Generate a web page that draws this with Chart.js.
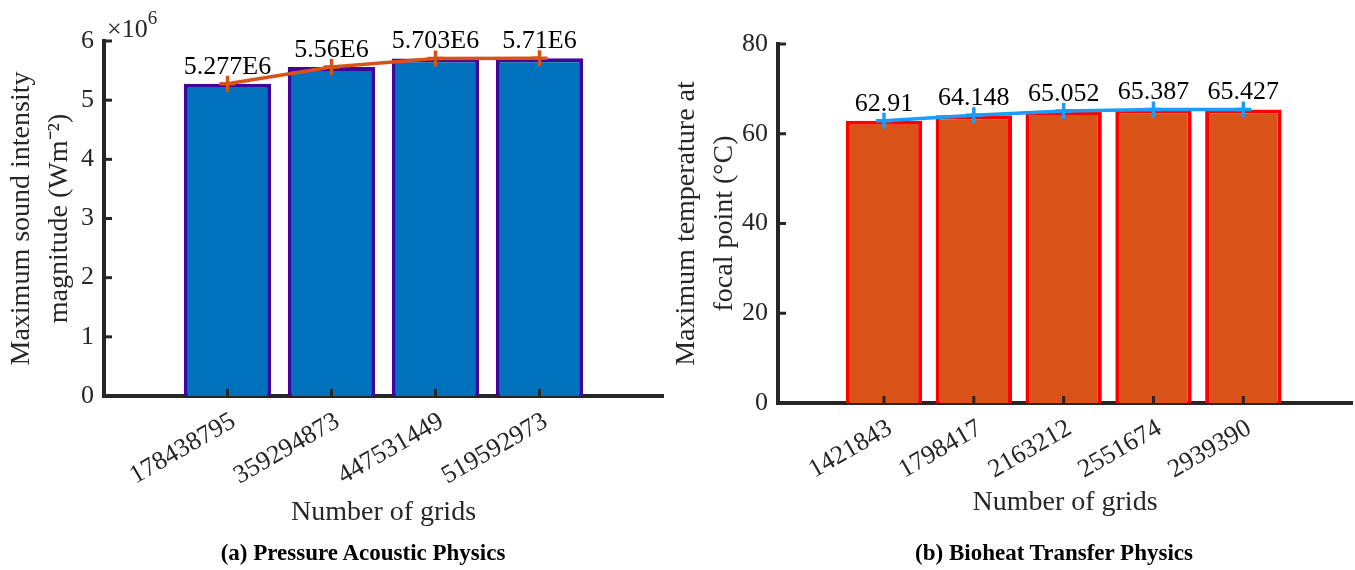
<!DOCTYPE html>
<html>
<head>
<meta charset="utf-8">
<script src="https://cdn.jsdelivr.net/npm/chart.js@4.4.1/dist/chart.umd.min.js"></script>
<style>
  body { margin: 0; background: #fff; width: 1355px; height: 570px; position: relative; overflow: hidden; font-family: "Liberation Serif", serif; }
  .box { position: absolute; top: 0; height: 570px; }
  #boxA { left: 0; width: 668px; }
  #boxB { left: 668px; width: 687px; }
  .caption { position: absolute; top: 540px; line-height: 26px; font-weight: bold; font-size: 23px; transform: translateX(-50%); white-space: nowrap; color: #000; }
</style>
</head>
<body>
<div class="box" id="boxA"><canvas id="acoustic"></canvas></div>
<div class="box" id="boxB"><canvas id="bioheat"></canvas></div>
<div class="caption" style="left:363px">(a) Pressure Acoustic Physics</div>
<div class="caption" style="left:1054px">(b) Bioheat Transfer Physics</div>
<script>
// (a) pressure acoustics
const gridsA = ["178438795", "359294873", "447531449", "519592973"];
const intensity = [5.277e6, 5.56e6, 5.703e6, 5.71e6];
const intensityLabels = ["5.277E6", "5.56E6", "5.703E6", "5.71E6"];
const yTicksA = [0, 1e6, 2e6, 3e6, 4e6, 5e6, 6e6];

// (b) bioheat transfer
const gridsB = ["1421843", "1798417", "2163212", "2551674", "2939390"];
const temperature = [62.91, 64.148, 65.052, 65.387, 65.427];
const temperatureLabels = ["62.91", "64.148", "65.052", "65.387", "65.427"];
const yTicksB = [0, 20, 40, 60, 80];

const AXIS = "#262626";
const serif = "'Liberation Serif', 'Times New Roman', serif";

// inward ticks, value labels and the x10^6 exponent, matlab style
const matlabTouches = {
  id: "matlabTouches",
  afterDatasetsDraw(chart, args, opts) {
    const { ctx, chartArea: a, scales: { x, y } } = chart;
    ctx.save();
    ctx.strokeStyle = AXIS;
    ctx.lineWidth = 3;
    y.ticks.forEach(t => {
      const py = y.getPixelForValue(t.value);
      ctx.beginPath(); ctx.moveTo(a.left, py); ctx.lineTo(a.left + 8, py); ctx.stroke();
    });
    x.ticks.forEach(t => {
      const px = x.getPixelForValue(t.value);
      ctx.beginPath(); ctx.moveTo(px, a.bottom); ctx.lineTo(px, a.bottom - 7); ctx.stroke();
    });

    const meta = chart.getDatasetMeta(0);
    ctx.fillStyle = "#000";
    ctx.font = "26px " + serif;
    ctx.textAlign = "center";
    ctx.textBaseline = "bottom";
    meta.data.forEach((pt, i) => ctx.fillText(opts.labels[i], pt.x, pt.y - 4));

    if (opts.exponent) {
      ctx.fillStyle = AXIS;
      ctx.textAlign = "left";
      ctx.textBaseline = "alphabetic";
      ctx.font = "26px " + serif;
      const base = "\u00d710";
      ctx.fillText(base, a.left + 3, a.top - 4);
      const w = ctx.measureText(base).width;
      ctx.font = "19px " + serif;
      ctx.fillText(opts.exponent, a.left + 3 + w, a.top - 17);
    }
    ctx.restore();
  }
};

function makeChart(id, cats, values, labels, yTicks, opt) {
  const pts = values.map((v, i) => ({ x: i + 1, y: v }));
  return new Chart(id, {
    data: {
      datasets: [
        {
          type: "line",
          data: pts,
          borderColor: opt.lineColor,
          borderWidth: 3.5,
          pointStyle: "cross",
          pointRadius: 8,
          pointBorderWidth: 3.5,
          pointBorderColor: opt.lineColor,
          tension: 0,
          order: 0,
        },
        {
          type: "bar",
          data: pts,
          backgroundColor: opt.barColor,
          borderColor: opt.edgeColor,
          borderWidth: 4,
          borderSkipped: "start",
          categoryPercentage: 1,
          barPercentage: opt.barPct,
          order: 1,
        },
      ],
    },
    options: {
      responsive: true,
      maintainAspectRatio: false,
      animation: false,
      layout: { padding: opt.padding, autoPadding: false },
      plugins: {
        legend: { display: false },
        tooltip: { enabled: false },
        matlabTouches: { labels: labels, exponent: opt.exponent },
      },
      scales: {
        x: {
          type: "linear",
          min: opt.xMin,
          max: opt.xMax,
          offset: false,
          z: 1,
          afterBuildTicks: s => { s.ticks = cats.map((c, i) => ({ value: i + 1 })); },
          afterFit: s => { s.height = opt.xHeight; s.paddingLeft = 0; s.paddingRight = 0; },
          grid: { display: false, drawTicks: false, offset: false },
          border: { display: true, color: AXIS, width: 4 },
          ticks: {
            autoSkip: false,
            minRotation: 30,
            maxRotation: 30,
            padding: 10,
            labelOffset: 6,
            color: AXIS,
            font: { family: serif, size: 26 },
            callback: v => cats[v - 1],
          },
          title: {
            display: true,
            text: "Number of grids",
            color: AXIS,
            padding: 0,
            font: { family: serif, size: 28 },
          },
        },
        y: {
          min: yTicks[0],
          max: yTicks[yTicks.length - 1],
          z: 1,
          afterBuildTicks: s => { s.ticks = yTicks.map(v => ({ value: v })); },
          afterFit: s => { s.width = opt.yWidth; },
          grid: { display: false, drawTicks: false },
          border: { display: true, color: AXIS, width: 4 },
          ticks: {
            padding: 10,
            color: AXIS,
            font: { family: serif, size: 26 },
            callback: opt.yFormat,
          },
          title: {
            display: true,
            text: opt.yTitle,
            color: AXIS,
            padding: { top: opt.yTitlePad, bottom: 0 },
            font: { family: serif, size: 28, lineHeight: 1.36 },
          },
        },
      },
    },
    plugins: [matlabTouches],
  });
}

makeChart("acoustic", gridsA, intensity, intensityLabels, yTicksA, {
  lineColor: "#D95319",
  barColor: "#0072BD",
  edgeColor: "#410597",
  barPct: 0.84,
  xMin: -0.1875,
  xMax: 5.1875,
  xHeight: 133,
  yWidth: 104,
  padding: { top: 41, left: 0, right: 5, bottom: 41 },
  exponent: "6",
  yFormat: v => v / 1e6,
  yTitle: ["Maximum sound intensity", "magnitude (Wm\u207b\u00b2)"],
  yTitlePad: 3,
});

makeChart("bioheat", gridsB, temperature, temperatureLabels, yTicksB, {
  lineColor: "#1C9CF5",
  barColor: "#D95319",
  edgeColor: "#FF0000",
  barPct: 0.85,
  xMin: -0.18,
  xMax: 6.21,
  xHeight: 116,
  yWidth: 110,
  padding: { top: 44, left: 0, right: 3, bottom: 51 },
  exponent: null,
  yFormat: v => v,
  yTitle: ["Maximum temperature at", "focal point (\u00b0C)"],
  yTitlePad: 0,
});
</script>
</body>
</html>
